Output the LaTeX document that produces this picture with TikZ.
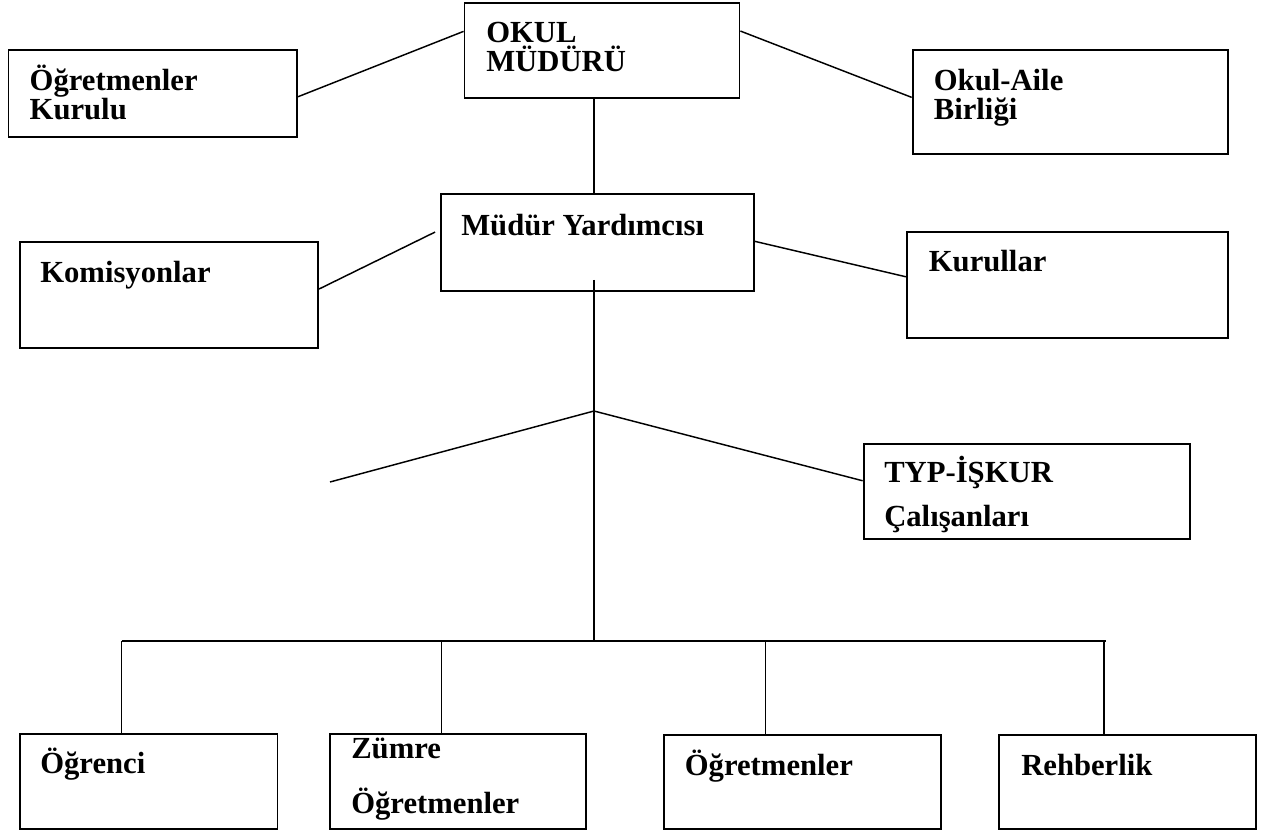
\documentclass[tikz,border=0pt]{standalone}
\usepackage{fontspec}
\setmainfont{Liberation Serif}
\usetikzlibrary{calc}
\tikzset{
  box/.style={draw, line width=1.4pt, inner sep=0pt, fill=white},
  conn/.style={line width=1.1pt},
  lbl/.style={anchor=base west, inner sep=0pt, font=\fontsize{23}{26}\selectfont\bfseries}
}
\newcommand{\mkbox}[5]{%
  \path ({(#2+#4)/2},{(#3+#5)/2}) node[box, minimum width={(#4-#2)*0.75pt}, minimum height={(#5-#3)*0.75pt}] (#1) {};}
\begin{document}
\begin{tikzpicture}[x=0.75pt, y=-0.75pt]
\useasboundingbox[fill=white] (0,0) rectangle (1265,832);
% boxes
\mkbox{okul}{464.5}{3}{739.5}{98.3}
\mkbox{ogk}{8.5}{50.3}{297}{136.7}
\mkbox{oa}{912.6}{50.3}{1227.8}{154.3}
\mkbox{my}{441}{194}{754}{291}
\mkbox{kom}{19.6}{242}{318}{348}
\mkbox{kur}{906.8}{232.3}{1227.8}{338.3}
\mkbox{typ}{863.6}{444.3}{1190.4}{539}
\mkbox{ogr}{19.6}{734}{277.5}{829.3}
\mkbox{zum}{329.8}{734}{585.7}{829.3}
\mkbox{ogt}{663.6}{734.7}{941.4}{829.3}
\mkbox{reh}{999.4}{734.7}{1256}{829.3}
% texts
\node[lbl] (t1a) at (486,42.5) {OKUL};
\node[lbl] (t1b) at (486,71) {MÜDÜRÜ};
\node[lbl] (t2a) at (29.4,90.7) {Öğretmenler};
\node[lbl] (t2b) at (29.4,119.3) {Kurulu};
\node[lbl] (t3a) at (933.6,90.5) {Okul-Aile};
\node[lbl] (t3b) at (933.6,119.3) {Birliği};
\node[lbl] (t4) at (461,235) {Müdür Yardımcısı};
\node[lbl] (t5) at (40,282.7) {Komisyonlar};
\node[lbl] (t6) at (928.6,271.7) {Kurullar};
\node[lbl] (t7a) at (884,482.7) {TYP-İŞKUR};
\node[lbl] (t7b) at (884,526.7) {Çalışanları};
\node[lbl] (t8) at (40,773) {Öğrenci};
\node[lbl] (t9a) at (351,758.3) {Zümre};
\node[lbl] (t9b) at (351,813.3) {Öğretmenler};
\node[lbl] (t10) at (684.6,775) {Öğretmenler};
\node[lbl] (t11) at (1021,775) {Rehberlik};
% coordinates
\coordinate (tx) at (594,0);
\coordinate (j) at (594,411);
\coordinate (free) at (330,482);
\coordinate (bl) at (121.6,641);
\coordinate (br) at (1105.6,641);
\coordinate (bm) at (594,641);
\coordinate (d2) at (441.6,641);
\coordinate (d3) at (765.7,641);
\coordinate (d4) at (1104,641);
% connectors
\draw[conn] ($(okul.north west)+(0,29.3)$) -- ($(ogk.north east)+(0,47.4)$);
\draw[conn] ($(okul.north east)+(0,29)$) -- ($(oa.north west)+(0,48)$);
\draw[conn] (okul.south -| tx) -- (my.north -| tx);
\draw[conn] ($(my.north west)+(-5,39)$) -- ($(kom.north east)+(0,48)$);
\draw[conn] ($(my.north east)+(0,48.3)$) -- ($(kur.north west)+(0,45.4)$);
\draw[conn] ($(my.south -| tx)+(0,-12)$) -- (j) -- (bm);
\draw[conn] (j) -- (free);
\draw[conn] (j) -- ($(typ.north west)+(0,37.4)$);
\draw[conn] (bl) -- (br);
\draw[conn] (bl) -- (bl |- ogr.north);
\draw[conn] (d2) -- (d2 |- zum.north);
\draw[conn] (d3) -- (d3 |- ogt.north);
\draw[conn] (d4) -- (d4 |- reh.north);
\end{tikzpicture}
\end{document}
